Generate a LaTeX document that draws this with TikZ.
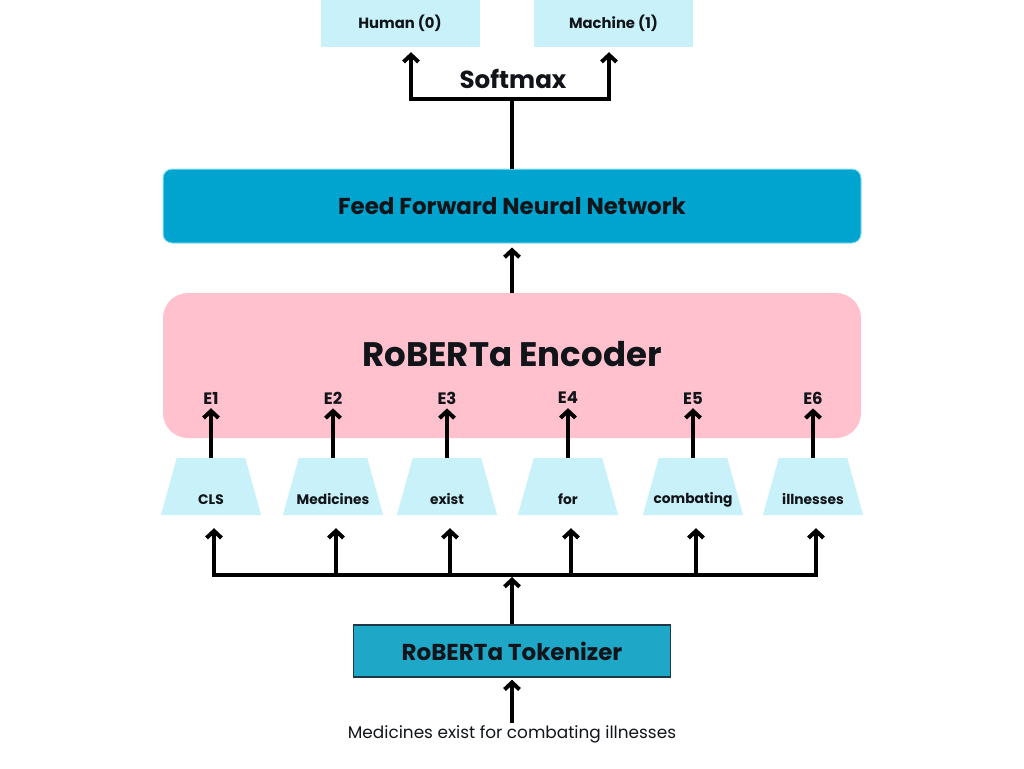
\documentclass[tikz,border=0pt]{standalone}
\usepackage{fontspec}
\setmainfont{Poppins}
\usetikzlibrary{arrows.meta,positioning,shapes.geometric}

\definecolor{paleblue}{HTML}{C8F1FA}
\definecolor{ffnnblue}{HTML}{00A4CF}
\definecolor{ffnnrim}{HTML}{8FE0F2}
\definecolor{encpink}{HTML}{FFC1CE}
\definecolor{tokblue}{HTML}{1FA7C8}
\definecolor{tokrim}{HTML}{1C3A46}
\definecolor{inkblack}{HTML}{111418}

\tikzset{
  classbox/.style={fill=paleblue, minimum width=159, minimum height=47, inner sep=0pt,
    font=\fontsize{14.8}{17}\selectfont\bfseries, text=inkblack},
  wordbox/.style={minimum width=100, minimum height=57, inner sep=0pt},
  wordtext/.style={font=\fontsize{13.8}{16}\selectfont\bfseries, text=inkblack},
  embtext/.style={font=\fontsize{16.5}{19}\selectfont\bfseries, text=inkblack, inner sep=0pt},
  uparrow/.style={-{Straight Barb[length=7pt,width=15pt]}, line width=4pt},
  wire/.style={line width=4pt},
}

\begin{document}
\begin{tikzpicture}[x=1pt,y=-1pt]
  \useasboundingbox (0,0) rectangle (1024,768);

  % output classes
  \node[classbox] (human) at (400,23.5) {Human (0)};
  \node[classbox] (machine) at (613.5,23.5) {Machine (1)};
  \node[font=\fontsize{24.6}{28}\selectfont\bfseries, text=inkblack] (softmax) at (513,79) {Softmax};
  \coordinate (split) at (512,99);

  % classifier head
  \node[fill=ffnnblue, draw=ffnnrim, line width=1pt, rounded corners=9, minimum width=698, minimum height=74,
    font=\fontsize{23}{27}\selectfont\bfseries, text=inkblack] (ffnn) at (512,206) {Feed Forward Neural Network};

  % encoder
  \node[fill=encpink, rounded corners=25, minimum width=698, minimum height=145] (encoder) at (512,365.5) {};
  \node[font=\fontsize{34}{38}\selectfont\bfseries, text=inkblack] (enctitle) at (512,354) {RoBERTa Encoder};

  % tokenizer and input
  \node[fill=tokblue, draw=tokrim, line width=1.5pt, minimum width=317, minimum height=52,
    font=\fontsize{23}{26}\selectfont\bfseries, text=inkblack] (tokenizer) at (512,651) {RoBERTa Tokenizer};
  \node[font=\fontsize{16.9}{19}\selectfont, text=inkblack, inner sep=2pt] (sentence) at (512,734) {Medicines exist for combating illnesses};
  \coordinate (bus) at (512,575);

  % tokens and embeddings
  \foreach \i/\x/\word in {1/211/CLS, 2/333/Medicines, 3/447/exist, 4/568/for, 5/693/combating, 6/813/illnesses} {
    \node[wordbox] (tok\i) at (\x,486.5) {};
    \fill[paleblue] (tok\i.south west) -- (tok\i.south east) -- ([xshift=-16pt]tok\i.north east)
      -- ([xshift=16pt]tok\i.north west) -- cycle;
    \node[wordtext] (word\i) at ([yshift=-13pt]tok\i.center) {\word};
    \node[embtext] (e\i) at (\x,398) {E\i};
    \draw[uparrow, shorten >=4pt] (tok\i.north) -- (e\i.south);
    \draw[uparrow, shorten >=13pt] ([xshift=3pt]tok\i.south |- bus) -- ([xshift=3pt]tok\i.south);
  }
  \draw[wire] ([xshift=1pt]tok1.south |- bus) -- ([xshift=5pt]tok6.south |- bus);

  % connectors
  \draw[uparrow, shorten >=2pt] (sentence.north) -- (tokenizer.south);
  \draw[uparrow, shorten >=2pt] (tokenizer.north) -- (bus);
  \draw[uparrow, shorten >=4pt] (encoder.north) -- (ffnn.south);
  \draw[wire] (ffnn.north) -- (split);
  \draw[uparrow, shorten >=5pt] (split) -| ([xshift=11pt]human.south);
  \draw[uparrow, shorten >=5pt] (split) -| ([xshift=-4.5pt]machine.south);
\end{tikzpicture}
\end{document}
